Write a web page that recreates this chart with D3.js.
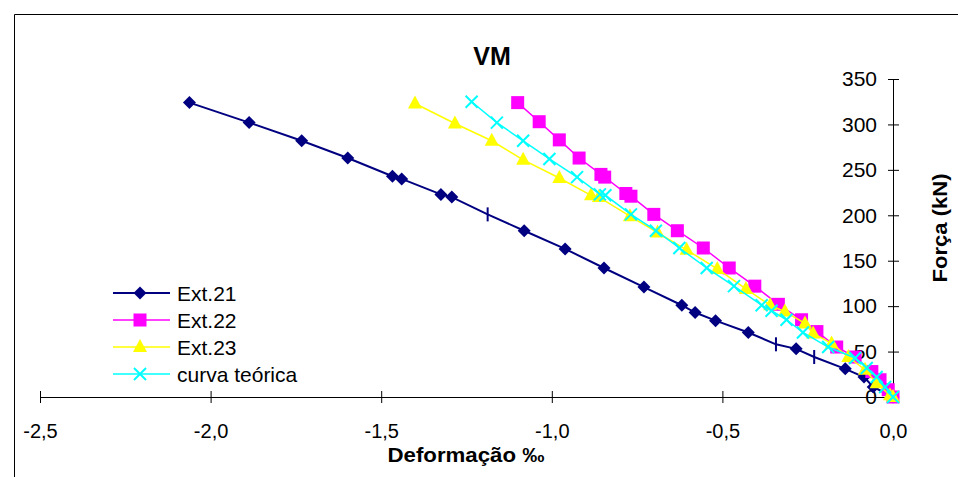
<!DOCTYPE html>
<html><head><meta charset="utf-8">
<script src="https://cdn.jsdelivr.net/npm/d3@7"></script>
<style>
html,body{margin:0;padding:0;background:#fff;}
svg{display:block;font-family:"Liberation Sans",Arial,sans-serif;}
</style></head>
<body>
<svg id="c" width="958" height="477"></svg>
<script>
// ---- data ----
const title = "VM";
const xTitle = "Deformação ‰";
const yTitle = "Força (kN)";
const xTickValues = [-2.5, -2.0, -1.5, -1.0, -0.5, 0.0];
const xTickLabels = ["-2,5", "-2,0", "-1,5", "-1,0", "-0,5", "0,0"];
const yTickValues = [0, 50, 100, 150, 200, 250, 300, 350];
const yTickLabels = ["0", "50", "100", "150", "200", "250", "300", "350"];
const seriesNames = ["Ext.21", "Ext.22", "Ext.23", "curva teórica"];

const ext21Def = [-2.062, -1.887, -1.733, -1.598, -1.467, -1.440, -1.325, -1.293, -1.081, -0.961, -0.847, -0.730, -0.619, -0.580, -0.520, -0.424, -0.284, -0.140, -0.085, -0.058, 0.0];
const ext21Force = [324, 302, 282, 263, 243, 240, 223, 220, 183, 163, 142, 121, 101, 93, 84, 71, 53, 31, 22, 11, 0];
// Ext.21 readings drawn with a dash marker
const ext21DashDef = [-1.188, -0.343, -0.231];
const ext21DashForce = [201, 58, 44];

const ext22Def = [-1.100, -1.037, -0.978, -0.920, -0.856, -0.845, -0.783, -0.768, -0.701, -0.632, -0.556, -0.480, -0.405, -0.336, -0.268, -0.223, -0.165, -0.111, -0.062, -0.038, -0.014, 0.0];
const ext22Force = [324, 303, 283, 263, 245, 242, 224, 221, 201, 183, 164, 142, 122, 102, 85, 72, 55, 44, 28, 19, 8, 0];

const ext23Def = [-1.401, -1.284, -1.176, -1.084, -0.978, -0.885, -0.862, -0.771, -0.690, -0.605, -0.515, -0.431, -0.360, -0.317, -0.258, -0.234, -0.180, -0.131, -0.082, -0.048, -0.009, 0.0];
const ext23Force = [323, 301, 282, 261, 241, 222, 220, 199, 181, 162, 141, 119, 101, 94, 81, 70, 59, 44, 30, 15, 2, 0];

const teorDef = [-1.235, -1.161, -1.084, -1.007, -0.926, -0.859, -0.843, -0.768, -0.695, -0.626, -0.546, -0.466, -0.385, -0.356, -0.312, -0.264, -0.190, -0.111, -0.077, -0.048, -0.023, 0.0];
const teorForce = [325, 302, 282, 262, 242, 223, 222, 201, 183, 164, 142, 122, 101, 95, 85, 71, 55, 43, 32, 22, 11, 0];

// ---- drawing ----
const svg = d3.select("#c");
const x = d3.scaleLinear().domain([-2.5, 0]).range([40, 893]);
const y = d3.scaleLinear().domain([0, 350]).range([397, 79]);

// outer frame
svg.append("path").attr("d", "M14.5,477 L14.5,14.5 L958,14.5")
  .attr("fill", "none").attr("stroke", "#000").attr("stroke-width", 1);

// x axis
const xAxis = d3.axisBottom(x).tickValues(xTickValues)
  .tickFormat((d, i) => xTickLabels[i]).tickSizeInner(6).tickSizeOuter(0).tickPadding(21);
const gx = svg.append("g").attr("transform", `translate(0,${y(0)})`).call(xAxis);
gx.select(".domain").attr("stroke", "#000");
gx.selectAll(".tick line").attr("y1", -6).attr("stroke", "#000");
gx.selectAll(".tick text").attr("font-size", 20).attr("fill", "#000")
  .attr("font-family", "Liberation Sans, Arial, sans-serif");

// y axis
const yAxis = d3.axisLeft(y).tickValues(yTickValues)
  .tickFormat((d, i) => yTickLabels[i]).tickSizeInner(5).tickSizeOuter(0).tickPadding(11);
const gy = svg.append("g").attr("transform", `translate(${x(0)},0)`).call(yAxis);
gy.select(".domain").attr("stroke", "#000");
gy.selectAll(".tick line").attr("x2", 6).attr("x1", -5).attr("stroke", "#000");
gy.selectAll(".tick text").attr("font-size", 21).attr("fill", "#000")
  .attr("font-family", "Liberation Sans, Arial, sans-serif");

// titles
svg.append("text").attr("x", 492).attr("y", 65).attr("text-anchor", "middle")
  .attr("font-size", 25).attr("font-weight", "bold").text(title);
svg.append("text").attr("x", 466).attr("y", 462).attr("text-anchor", "middle")
  .attr("font-size", 20).attr("font-weight", "bold")
  .attr("textLength", 157).attr("lengthAdjust", "spacingAndGlyphs").text(xTitle);
svg.append("text").attr("transform", "translate(947,228) rotate(-90)").attr("text-anchor", "middle")
  .attr("font-size", 21).attr("font-weight", "bold")
  .attr("textLength", 109).attr("lengthAdjust", "spacingAndGlyphs").text(yTitle);

// markers
function marker(g, type, color, cx, cy) {
  if (type === "diamond") {
    g.append("path").attr("d", "M0,-6.5 L6.5,0 L0,6.5 L-6.5,0 Z")
      .attr("transform", `translate(${cx},${cy})`).attr("fill", color);
  } else if (type === "square") {
    g.append("rect").attr("x", cx - 6.5).attr("y", cy - 6.5).attr("width", 13).attr("height", 13).attr("fill", color);
  } else if (type === "triangle") {
    g.append("path").attr("d", "M0,-8 L7,5 L-7,5 Z")
      .attr("transform", `translate(${cx},${cy})`).attr("fill", color);
  } else if (type === "x") {
    g.append("path").attr("d", "M-6,-6 L6,6 M-6,6 L6,-6")
      .attr("transform", `translate(${cx},${cy})`).attr("stroke", color).attr("stroke-width", 2).attr("fill", "none");
  } else if (type === "dash") {
    g.append("path").attr("d", "M0,-7 L0,7")
      .attr("transform", `translate(${cx},${cy})`).attr("stroke", color).attr("stroke-width", 2);
  }
}

const series = [
  {name: seriesNames[0], xs: ext21Def, ys: ext21Force, color: "#000080", m: "diamond", w: 2},
  {name: seriesNames[1], xs: ext22Def, ys: ext22Force, color: "#FF00FF", m: "square", w: 1.5},
  {name: seriesNames[2], xs: ext23Def, ys: ext23Force, color: "#FFFF00", m: "triangle", w: 1.5},
  {name: seriesNames[3], xs: teorDef, ys: teorForce, color: "#00FFFF", m: "x", w: 1.5}
];

const line = d3.line().x(d => x(d[0])).y(d => y(d[1]));
series.forEach((s, si) => {
  const g = svg.append("g");
  let pts = s.xs.map((v, i) => [v, s.ys[i]]);
  if (si === 0) {
    pts = pts.concat(ext21DashDef.map((v, i) => [v, ext21DashForce[i]]));
    pts.sort((a, b) => a[0] - b[0]);
  }
  g.append("path").attr("d", line(pts)).attr("fill", "none")
    .attr("stroke", s.color).attr("stroke-width", s.w);
  s.xs.forEach((v, i) => marker(g, s.m, s.color, x(v), y(s.ys[i])));
  if (si === 0) {
    ext21DashDef.forEach((v, i) => marker(g, "dash", s.color, x(v), y(ext21DashForce[i])));
  }
});

// legend
const legY = [293, 320, 347, 374];
series.forEach((s, i) => {
  const g = svg.append("g");
  g.append("line").attr("x1", 113).attr("x2", 170).attr("y1", legY[i]).attr("y2", legY[i])
    .attr("stroke", s.color).attr("stroke-width", s.w);
  marker(g, s.m, s.color, 140, legY[i]);
  g.append("text").attr("x", 177).attr("y", legY[i]).attr("dy", "0.36em")
    .attr("font-size", 21).attr("fill", "#000").text(s.name);
});
</script>
</body></html>
